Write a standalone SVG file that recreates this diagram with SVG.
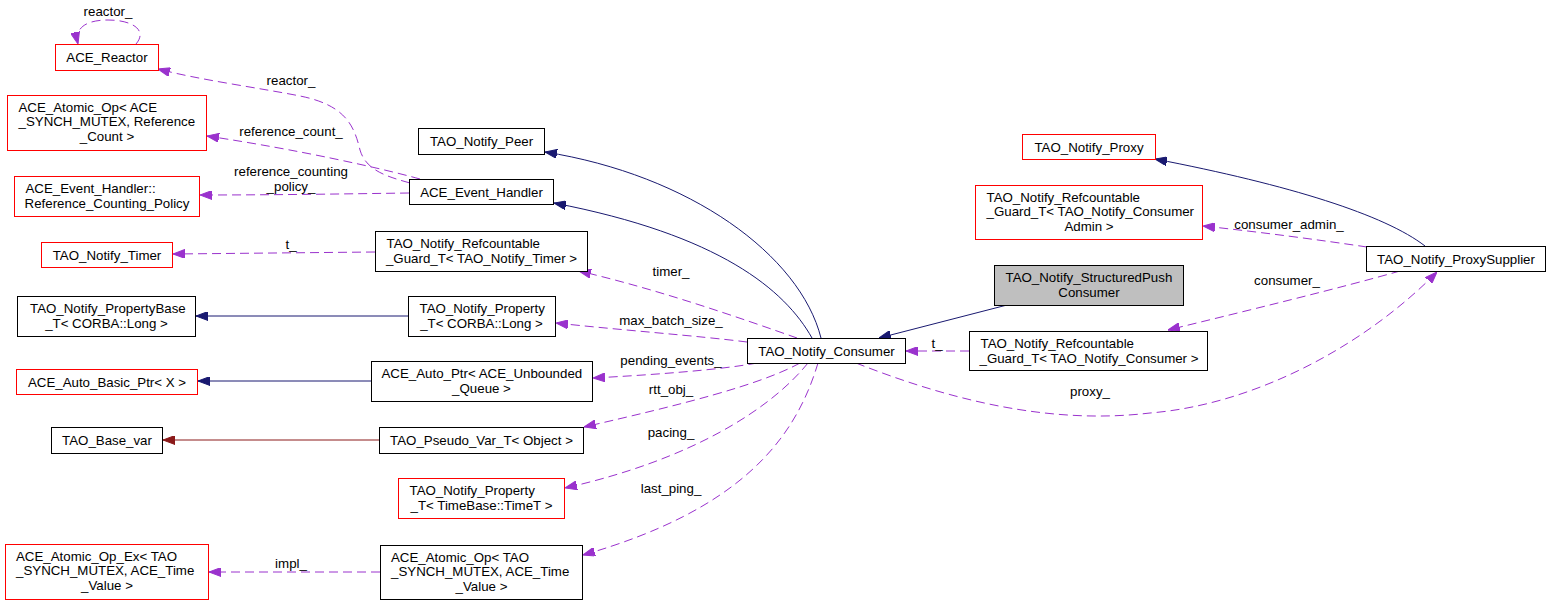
<svg xmlns="http://www.w3.org/2000/svg" width="1551" height="605" viewBox="0 0 1551 605">
<style>
  .n rect { fill: #ffffff; stroke: #000000; stroke-width: 1; }
  .n.red rect { stroke: #ff0000; }
  .n.gray rect { fill: #bfbfbf; }
  text { font-family: "Liberation Sans", Arial, sans-serif; font-size: 13.3px; fill: #000000; }
  .c { text-anchor: middle; }
  .e { fill: none; stroke-width: 1; }
  .inh { stroke: #191970; }
  .pvt { stroke: #8b1a1a; }
  .use { stroke: #9a32cd; stroke-dasharray: 9,5; }
  .lbl { text-anchor: middle; }
</style>
<defs>
  <marker id="ab" markerUnits="userSpaceOnUse" markerWidth="12" markerHeight="9" refX="12" refY="4.5" orient="auto">
    <path d="M0,0 L12,4.5 L0,9 z" fill="#191970" stroke="#191970"/>
  </marker>
  <marker id="ar" markerUnits="userSpaceOnUse" markerWidth="12" markerHeight="9" refX="12" refY="4.5" orient="auto">
    <path d="M0,0 L12,4.5 L0,9 z" fill="#8b1a1a" stroke="#8b1a1a"/>
  </marker>
  <marker id="ap" markerUnits="userSpaceOnUse" markerWidth="12" markerHeight="9" refX="12" refY="4.5" orient="auto">
    <path d="M0,0 L12,4.5 L0,9 z" fill="#9a32cd" stroke="#9a32cd"/>
  </marker>
</defs>
<rect x="0" y="0" width="1551" height="605" fill="#ffffff"/>

<g id="edges">
  <!-- inheritance -->
  <path class="e inh" d="M 821,338 C 800,255 690,175 545,152" marker-end="url(#ab)"/>
  <path class="e inh" d="M 812,338 C 785,290 720,235 554,203" marker-end="url(#ab)"/>
  <path class="e inh" d="M 1007,305 L 879,338" marker-end="url(#ab)"/>
  <path class="e inh" d="M 408,316 L 196,316" marker-end="url(#ab)"/>
  <path class="e inh" d="M 371,381 L 198,381" marker-end="url(#ab)"/>
  <path class="e pvt" d="M 379,440 L 163,440" marker-end="url(#ar)"/>
  <path class="e inh" d="M 1425,246 C 1385,215 1290,185 1155,159" marker-end="url(#ab)"/>
  <!-- usage -->
  <path class="e use" d="M 136,44 C 148,30 132,20 108,20 C 86,20 74,28 78,44" marker-end="url(#ap)"/>
  <text class="lbl" x="108" y="16">reactor_</text>
  <path class="e use" d="M 410,183 C 385,176 366,170 360,150 C 354,125 345,105 300,96 C 260,88 200,80 158,69" marker-end="url(#ap)"/>
  <text class="lbl" x="291" y="84.5">reactor_</text>
  <path class="e use" d="M 420,179 C 380,168 300,150 207,136" marker-end="url(#ap)"/>
  <text class="lbl" x="291" y="136">reference_count_</text>
  <path class="e use" d="M 409,193 C 340,194 270,195 200,195" marker-end="url(#ap)"/>
  <text class="lbl" x="291" y="176">reference_counting</text>
  <text class="lbl" x="291" y="191">_policy_</text>
  <path class="e use" d="M 375,252 L 173,254" marker-end="url(#ap)"/>
  <text class="lbl" x="291" y="249">t_</text>
  <path class="e use" d="M 797,338 C 740,318 660,290 579,271" marker-end="url(#ap)"/>
  <text class="lbl" x="671" y="276">timer_</text>
  <path class="e use" d="M 747,342 C 700,336 620,330 556,323" marker-end="url(#ap)"/>
  <text class="lbl" x="671" y="325">max_batch_size_</text>
  <path class="e use" d="M 757,363 C 720,370 650,375 593,378" marker-end="url(#ap)"/>
  <text class="lbl" x="671" y="365">pending_events_</text>
  <path class="e use" d="M 800,363 C 760,385 680,405 584,427" marker-end="url(#ap)"/>
  <text class="lbl" x="671" y="393.5">rtt_obj_</text>
  <path class="e use" d="M 808,363 C 770,410 690,460 565,488" marker-end="url(#ap)"/>
  <text class="lbl" x="671" y="437">pacing_</text>
  <path class="e use" d="M 818,363 C 795,440 740,510 583,555" marker-end="url(#ap)"/>
  <text class="lbl" x="671" y="492.5">last_ping_</text>
  <path class="e use" d="M 380,572 L 209,572" marker-end="url(#ap)"/>
  <text class="lbl" x="291" y="568">impl_</text>
  <path class="e use" d="M 969,351 L 906,351" marker-end="url(#ap)"/>
  <text class="lbl" x="937" y="348">t_</text>
  <path class="e use" d="M 1367,247 C 1320,240 1260,232 1203,226" marker-end="url(#ap)"/>
  <text class="lbl" x="1289" y="228.5">consumer_admin_</text>
  <path class="e use" d="M 1400,271 C 1340,288 1250,310 1168,330" marker-end="url(#ap)"/>
  <text class="lbl" x="1287" y="284.5">consumer_</text>
  <path class="e use" d="M 856,363 C 950,400 1050,425 1150,413 C 1250,405 1360,350 1437,272" marker-end="url(#ap)"/>
  <text class="lbl" x="1090" y="396">proxy_</text>
</g>

<g id="ACE_Reactor" class="n red">
  <rect x="55.5" y="44.5" width="103" height="26"/>
  <text class="c" x="107" y="62">ACE_Reactor</text>
</g>
<g id="ACE_Atomic_Op_Reference_Count" class="n red">
  <rect x="7.5" y="95.5" width="199" height="55"/>
  <text x="18.5" y="111.5">ACE_Atomic_Op&lt; ACE</text>
  <text x="18.5" y="126">_SYNCH_MUTEX, Reference</text>
  <text class="c" x="107" y="140.5">_Count &gt;</text>
</g>
<g id="Reference_Counting_Policy" class="n red">
  <rect x="14.5" y="176.5" width="185" height="40"/>
  <text x="25.5" y="193">ACE_Event_Handler::</text>
  <text class="c" x="107" y="207.5">Reference_Counting_Policy</text>
</g>
<g id="TAO_Notify_Timer" class="n red">
  <rect x="41.5" y="242.5" width="131" height="25"/>
  <text class="c" x="107" y="259.5">TAO_Notify_Timer</text>
</g>
<g id="TAO_Notify_PropertyBase_T" class="n">
  <rect x="17.5" y="296.5" width="178" height="40"/>
  <text x="30" y="313">TAO_Notify_PropertyBase</text>
  <text class="c" x="106.5" y="327.5">_T&lt; CORBA::Long &gt;</text>
</g>
<g id="ACE_Auto_Basic_Ptr" class="n red">
  <rect x="16.5" y="369.5" width="181" height="25"/>
  <text class="c" x="107" y="386.5">ACE_Auto_Basic_Ptr&lt; X &gt;</text>
</g>
<g id="TAO_Base_var" class="n">
  <rect x="51.5" y="427.5" width="111" height="26"/>
  <text class="c" x="107" y="444.5">TAO_Base_var</text>
</g>
<g id="ACE_Atomic_Op_Ex" class="n red">
  <rect x="5.5" y="544.5" width="203" height="55"/>
  <text x="16" y="560.5">ACE_Atomic_Op_Ex&lt; TAO</text>
  <text x="16" y="575">_SYNCH_MUTEX, ACE_Time</text>
  <text class="c" x="107" y="589.5">_Value &gt;</text>
</g>

<g id="TAO_Notify_Peer" class="n">
  <rect x="418.5" y="128.5" width="126" height="26"/>
  <text class="c" x="481.5" y="146">TAO_Notify_Peer</text>
</g>
<g id="ACE_Event_Handler" class="n">
  <rect x="409.5" y="179.5" width="144" height="25"/>
  <text class="c" x="481.5" y="196.5">ACE_Event_Handler</text>
</g>
<g id="Guard_Timer" class="n">
  <rect x="375.5" y="231.5" width="212" height="40"/>
  <text x="386.5" y="248">TAO_Notify_Refcountable</text>
  <text class="c" x="481.5" y="262.5">_Guard_T&lt; TAO_Notify_Timer &gt;</text>
</g>
<g id="TAO_Notify_Property_T_Long" class="n">
  <rect x="408.5" y="296.5" width="147" height="40"/>
  <text x="419.5" y="313">TAO_Notify_Property</text>
  <text class="c" x="481.5" y="327.5">_T&lt; CORBA::Long &gt;</text>
</g>
<g id="ACE_Auto_Ptr" class="n">
  <rect x="371.5" y="361.5" width="221" height="40"/>
  <text x="381.5" y="378">ACE_Auto_Ptr&lt; ACE_Unbounded</text>
  <text class="c" x="481.5" y="392.5">_Queue &gt;</text>
</g>
<g id="TAO_Pseudo_Var_T" class="n">
  <rect x="379.5" y="427.5" width="204" height="26"/>
  <text class="c" x="481.5" y="445">TAO_Pseudo_Var_T&lt; Object &gt;</text>
</g>
<g id="TAO_Notify_Property_T_TimeT" class="n red">
  <rect x="398.5" y="478.5" width="166" height="40"/>
  <text x="409.5" y="495">TAO_Notify_Property</text>
  <text class="c" x="481.5" y="509.5">_T&lt; TimeBase::TimeT &gt;</text>
</g>
<g id="ACE_Atomic_Op_Time_Value" class="n">
  <rect x="380.5" y="545.5" width="202" height="54"/>
  <text x="391" y="561.5">ACE_Atomic_Op&lt; TAO</text>
  <text x="391" y="576">_SYNCH_MUTEX, ACE_Time</text>
  <text class="c" x="481.5" y="590.5">_Value &gt;</text>
</g>

<g id="TAO_Notify_Consumer" class="n">
  <rect x="747.5" y="338.5" width="158" height="25"/>
  <text class="c" x="826.5" y="355.5">TAO_Notify_Consumer</text>
</g>

<g id="TAO_Notify_Proxy" class="n red">
  <rect x="1022.5" y="134.5" width="133" height="25"/>
  <text class="c" x="1089" y="151.5">TAO_Notify_Proxy</text>
</g>
<g id="Guard_ConsumerAdmin" class="n red">
  <rect x="975.5" y="185.5" width="227" height="54"/>
  <text x="986.5" y="201.5">TAO_Notify_Refcountable</text>
  <text x="986.5" y="216">_Guard_T&lt; TAO_Notify_Consumer</text>
  <text class="c" x="1089" y="230.5">Admin &gt;</text>
</g>
<g id="TAO_Notify_StructuredPushConsumer" class="n gray">
  <rect x="994.5" y="265.5" width="189" height="40"/>
  <text x="1005.5" y="282">TAO_Notify_StructuredPush</text>
  <text class="c" x="1089" y="296.5">Consumer</text>
</g>
<g id="Guard_Consumer" class="n">
  <rect x="969.5" y="331.5" width="238" height="39"/>
  <text x="980.5" y="348">TAO_Notify_Refcountable</text>
  <text class="c" x="1089" y="362.5">_Guard_T&lt; TAO_Notify_Consumer &gt;</text>
</g>
<g id="TAO_Notify_ProxySupplier" class="n">
  <rect x="1366.5" y="246.5" width="179" height="25"/>
  <text class="c" x="1456" y="263.5">TAO_Notify_ProxySupplier</text>
</g>
</svg>
